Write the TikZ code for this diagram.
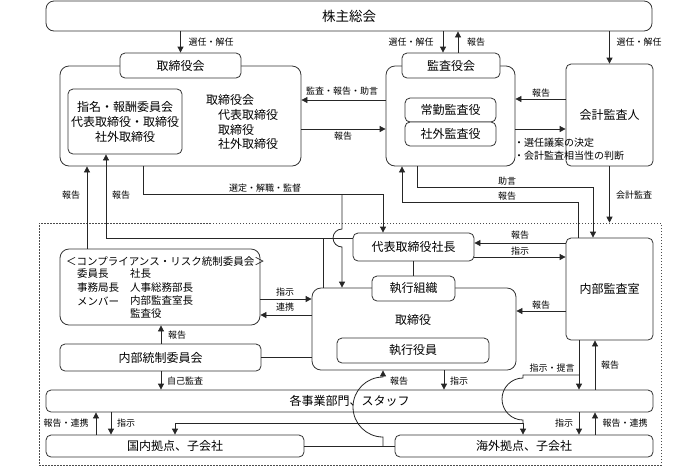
\documentclass[tikz,border=0pt]{standalone}
\usepackage{fontspec}
\newfontfamily\jp{Noto Sans CJK JP}
\usetikzlibrary{arrows.meta}
\tikzset{
  box/.style={draw=black!80, line width=0.8pt, rounded corners=5pt, fill=white, inner sep=0pt,
    font=\jp\fontsize{12}{15}\selectfont, text=black, align=center},
  bigbox/.style={box, rounded corners=9pt},
  grpbox/.style={draw=black!70, line width=0.6pt, dash pattern=on 1.5pt off 1.5pt, inner sep=0pt},
  ln/.style={draw=black!85, line width=0.8pt},
  arr/.style={ln, -{Triangle[length=6pt,width=6pt]}},
  lbl/.style={font=\jp\fontsize{9}{10}\selectfont, inner sep=0pt, text=black},
  txt/.style={font=\jp\fontsize{12}{14}\selectfont, inner sep=0pt, text=black, anchor=west},
  ctxt/.style={font=\jp\fontsize{10.5}{12}\selectfont, inner sep=0pt, text=black, anchor=west},
  btxt/.style={font=\jp\fontsize{10}{12}\selectfont, inner sep=0pt, text=black, anchor=west},
}
\newcommand\mkbox[7]{\node[#1, minimum width={(#4)-(#2)}, minimum height={(#5)-(#3)}] (#6) at ({((#2)+(#4))/2},{((#3)+(#5))/2}) {#7};}
\begin{document}
\begin{tikzpicture}[x=1pt,y=-1pt]
\useasboundingbox (0,0) rectangle (700,467);
% group
\mkbox{grpbox}{39}{223}{661}{465}{grp}{}
% boxes
\mkbox{box, rounded corners=8pt, font=\jp\fontsize{13.5}{15}\selectfont}{46}{1}{652}{31}{sh}{株主総会}
\mkbox{bigbox}{60}{66}{301}{166}{bod}{}
\mkbox{box}{120}{53}{241}{78}{bodL}{取締役会}
\mkbox{box}{68}{89}{182}{154}{nom}{指名・報酬委員会\\代表取締役・取締役\\社外取締役}
\mkbox{bigbox}{386}{66}{515}{166}{ka}{}
\mkbox{box}{402}{53}{500}{78}{kaL}{監査役会}
\mkbox{box}{405}{98}{496}{122}{jokin}{常勤監査役}
\mkbox{box}{405}{122}{496}{146}{shagai}{社外監査役}
\mkbox{box}{566}{64}{653}{166}{kaikei}{会計監査人}
\mkbox{box}{353}{233}{474}{261}{pres}{代表取締役社長}
\mkbox{bigbox}{312}{288}{516}{370}{ex}{}
\mkbox{box}{372}{276}{455}{301}{exL}{執行組織}
\mkbox{box}{337}{338}{489}{363}{officer}{執行役員}
\mkbox{box}{566}{238}{653}{340}{audit}{内部監査室}
\mkbox{bigbox}{60}{249}{260}{325}{comp}{}
\mkbox{box}{60}{344}{261}{371}{ic}{内部統制委員会}
\mkbox{box}{46}{390}{653}{412}{dept}{各事業部門、スタッフ}
\mkbox{box}{46}{435}{304}{457}{dom}{国内拠点、子会社}
\mkbox{box}{395}{435}{653}{457}{ovs}{海外拠点、子会社}
% texts inside outer boxes
\node[txt] (t1) at (206,100) {取締役会};
\node[txt] (t2) at (218,115) {代表取締役};
\node[txt] (t3) at (218,130) {取締役};
\node[txt] (t4) at (218,144) {社外取締役};
\node[font=\jp\fontsize{12}{14}\selectfont, inner sep=0pt, text=black] (t5) at (413,320) {取締役};
\node[ctxt] (c0) at (66,262) {＜コンプライアンス・リスク統制委員会＞};
\node[ctxt] (c1) at (77,274) {委員長};
\node[ctxt] (c2) at (130,274) {社長};
\node[ctxt] (c3) at (77,288) {事務局長};
\node[ctxt] (c4) at (130,288) {人事総務部長};
\node[ctxt] (c5) at (77,301) {メンバー};
\node[ctxt] (c6) at (130,301) {内部監査室長};
\node[ctxt] (c7) at (130,314) {監査役};
% connectors top
\draw[arr] (sh.south -| bodL.north) -- (bodL.north);
\draw[arr] (sh.south -| 443,0) -- (kaL.north -| 443,0);
\draw[arr] (kaL.north -| 458,0) -- (sh.south -| 458,0);
\draw[arr] (sh.south -| kaikei.north) -- (kaikei.north);
\draw[arr] (ka.west |- 0,100) -- (bod.east |- 0,100);
\draw[arr] (bod.east |- 0,129) -- (ka.west |- 0,129);
\draw[arr] (kaikei.west |- 0,99) -- (ka.east |- 0,99);
\draw[arr] (ka.east |- 0,129) -- (kaikei.west |- 0,129);
\draw[arr] (kaikei.south) -- (kaikei.south |- grp.north);
\draw[arr] (ka.south -| 417,0) -- (417,187) -- (593,187) -- (audit.north -| 593,0);
\draw[arr] (audit.north -| 578,0) -- (578,202) -- (402,202) -- (ka.south -| 402,0);
% selection line
\draw[arr] (bod.south -| 143,0) -- (143,194) -- (383,194) -- (pres.north -| 383,0);
\draw[arr] (342,194) -- (342,229) arc[start angle=-90,end angle=-270,radius=9] -- (ex.north -| 342,0);
% reports to nomination committee
\draw[arr] (pres.west |- 0,238) -- (106,238) -- (nom.south -| 106,0);
\draw[ln] (323,238) -- (ex.north -| 323,0);
\draw[arr] (comp.north -| 87,0) -- (bod.south -| 87,0);
% president / audit
\draw[arr] (audit.west |- 0,243) -- (pres.east |- 0,243);
\draw[arr] (pres.east |- 0,257) -- (audit.west |- 0,257);
\draw[ln] (pres.south) -- (exL.north);
\draw[arr] (audit.west |- 0,311) -- (ex.east |- 0,311);
\draw[arr] (comp.east |- 0,299) -- (ex.west |- 0,299);
\draw[arr] (ex.west |- 0,315) -- (comp.east |- 0,315);
\draw[arr] (ic.north -| 161,0) -- (comp.south -| 161,0);
\draw[ln] (ic.east) -- (ex.west |- ic.east);
\draw[arr] (ic.south -| 161,0) -- (dept.north -| 161,0);
\draw[arr] (ex.south -| 444,0) -- (dept.north -| 444,0);
% bottom
\draw[ln] (dom.east) -- (ovs.west);
\draw[arr] (383,446) -- (383,437) arc[start angle=90,end angle=270,radius=30] -- (ex.south -| 383,0);
\draw[arr] (audit.south -| 579,0) -- (dept.north -| 579,0);
\draw[ln] (579,375) -- (523,375) -- (523,378) arc[start angle=-90,end angle=-270,radius=21] -- (523,423);
\draw[arr] (523,423) -- (ovs.north -| 523,0);
\draw[arr] (523,423) -- (175,423) -- (dom.north -| 175,0);
\draw[arr] (dept.north -| 595,0) -- (audit.south -| 595,0);
\draw[arr] (dept.south -| 579,0) -- (ovs.north -| 579,0);
\draw[arr] (ovs.north -| 595,0) -- (dept.south -| 595,0);
\draw[arr] (dom.north -| 96,0) -- (dept.south -| 96,0);
\draw[arr] (dept.south -| 111,0) -- (dom.north -| 111,0);
% labels
\node[lbl] (l1) at (211,42) {選任・解任};
\node[lbl] (l2) at (411,42) {選任・解任};
\node[lbl] (l3) at (476,42) {報告};
\node[lbl] (l4) at (639,42) {選任・解任};
\node[lbl] (l5) at (342,91) {監査・報告・助言};
\node[lbl] (l6) at (343,136) {報告};
\node[lbl] (l7) at (541,93) {報告};
\node[btxt] (l8) at (514,143) {・選任議案の決定};
\node[btxt] (l9) at (514,156) {・会計監査相当性の判断};
\node[lbl] (l10) at (507,181) {助言};
\node[lbl] (l11) at (507,196) {報告};
\node[lbl] (l12) at (634,195) {会計監査};
\node[lbl] (l13) at (265,188) {選定・解職・監督};
\node[lbl] (l14) at (71,195) {報告};
\node[lbl] (l15) at (121,195) {報告};
\node[lbl] (l16) at (520,235) {報告};
\node[lbl] (l17) at (520,251) {指示};
\node[lbl] (l18) at (541,305) {報告};
\node[lbl] (l19) at (285,292) {指示};
\node[lbl] (l20) at (285,307) {連携};
\node[lbl] (l21) at (177,335) {報告};
\node[lbl] (l22) at (185,381) {自己監査};
\node[lbl] (l23) at (399,381) {報告};
\node[lbl] (l24) at (459,381) {指示};
\node[lbl] (l25) at (552,368) {指示・提言};
\node[lbl] (l26) at (610,365) {報告};
\node[lbl] (l27) at (564,423) {指示};
\node[lbl] (l28) at (625,423) {報告・連携};
\node[lbl] (l29) at (66,423) {報告・連携};
\node[lbl] (l30) at (126,423) {指示};
\end{tikzpicture}
\end{document}
